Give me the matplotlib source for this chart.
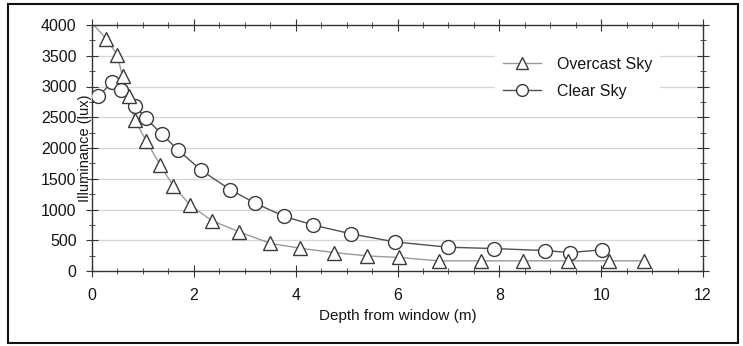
import matplotlib
matplotlib.use("Agg")
import matplotlib.pyplot as plt
from matplotlib.patches import Rectangle
from matplotlib.ticker import MultipleLocator

plt.rcParams['font.family'] = ['Liberation Sans', 'DejaVu Sans']

# depth from window (m) and illuminance (lux)
overcast_x = [0.28, 0.49, 0.60, 0.73, 0.84, 1.07, 1.34, 1.60, 1.93, 2.35, 2.88,
              3.50, 4.09, 4.76, 5.40, 6.03, 6.81, 7.64, 8.46, 9.34, 10.16, 10.85]
overcast_y = [3780, 3520, 3170, 2840, 2450, 2110, 1720, 1380, 1070, 820, 640,
              450, 370, 300, 245, 220, 165, 165, 165, 165, 165, 165]
# fitted curve starts at the top-left corner
overcast_start = (0.03, 4000)

clear_x = [0.12, 0.40, 0.57, 0.84, 1.06, 1.38, 1.68, 2.15, 2.72, 3.21, 3.78,
           4.35, 5.09, 5.95, 6.99, 7.90, 8.90, 9.38, 10.01]
clear_y = [2840, 3070, 2950, 2690, 2480, 2220, 1975, 1635, 1320, 1100, 887,
           746, 604, 473, 387, 365, 332, 300, 343]

labels = ['Overcast Sky', 'Clear Sky']

W, H = 743, 346
fig = plt.figure(figsize=(W / 100, H / 100), dpi=100)
ax = fig.add_axes([92 / W, 1 - 271 / H, 611 / W, 246 / H])

for y in range(500, 4000, 500):
    ax.axhline(y, color='#d6d6d6', lw=0.9, zorder=0)

ax.plot([overcast_start[0]] + overcast_x, [overcast_start[1]] + overcast_y,
        color='#9a9a9a', lw=1.0, zorder=2)
ax.plot(overcast_x, overcast_y, ls='none', marker='^', ms=10.5, mfc='white',
        mec='#3a3a3a', mew=1.0, zorder=4)
ax.plot(clear_x, clear_y, color='#505050', lw=1.0, zorder=3)
ax.plot(clear_x, clear_y, ls='none', marker='o', ms=10, mfc='white',
        mec='#3a3a3a', mew=1.0, zorder=3)

h1, = ax.plot([], [], color='#9a9a9a', lw=1.0, marker='^', ms=9, mfc='white', mec='#3a3a3a')
h2, = ax.plot([], [], color='#505050', lw=1.0, marker='o', ms=8.5, mfc='white', mec='#3a3a3a')
leg = ax.legend([h1, h2], labels, loc='upper left', bbox_to_anchor=(0.646, 0.935),
                frameon=True, facecolor='white', edgecolor='none', framealpha=1,
                fontsize=11.5, handlelength=2.4, handletextpad=1.0, labelspacing=0.75,
                borderpad=0.5, fancybox=False)
for t in leg.get_texts():
    t.set_color('#151515')
leg.set_zorder(5)

ax.set_xlim(0, 12)
ax.set_ylim(0, 4000)
ax.xaxis.set_major_locator(MultipleLocator(2))
ax.xaxis.set_minor_locator(MultipleLocator(0.5))
ax.yaxis.set_major_locator(MultipleLocator(500))
ax.yaxis.set_minor_locator(MultipleLocator(250))

for s in ax.spines.values():
    s.set_color('#333333')
    s.set_linewidth(1.0)

ax.tick_params(which='both', top=True, right=True, colors='#333333', labelsize=11.5,
               labelcolor='#151515')
ax.tick_params(axis='x', which='major', direction='inout', length=8, pad=8)
ax.tick_params(axis='x', which='minor', direction='inout', length=5)
ax.tick_params(axis='y', which='major', direction='inout', length=8, pad=7)
ax.tick_params(axis='y', which='minor', direction='inout', length=5)

ax.set_xlabel('Depth from window (m)', fontsize=11, color='#151515')
ax.xaxis.set_label_coords(0.5, -0.155)
ax.set_ylabel('Illuminance (lux)', fontsize=10.5, color='#151515')
ax.yaxis.set_label_coords(0.0, 0.5)

# outer frame round the figure
fig.patches.append(Rectangle((8 / W, 1 - 343 / H), 730 / W, 339 / H, transform=fig.transFigure,
                             fill=False, edgecolor='#111111', lw=1.5))

fig.savefig('out.png', dpi=100, facecolor='white')
